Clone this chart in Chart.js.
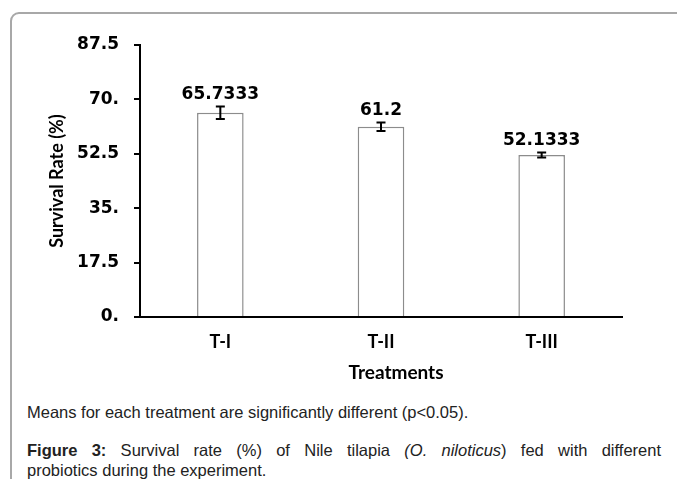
<!DOCTYPE html>
<html>
<head>
<meta charset="utf-8">
<script src="https://cdn.jsdelivr.net/npm/chart.js@4.4.0/dist/chart.umd.min.js"></script>
<style>
    body { margin: 0; background: #fff; }
    #page { position: relative; width: 677px; height: 479px; overflow: hidden; }
    #marco {
        position: absolute; left: 10px; top: 12px; width: 720px; height: 520px;
        border: 2px solid #a8a8a8; border-radius: 9px;
    }
    #grafico { position: absolute; left: 0; top: 0; }
    .nota {
        position: absolute; left: 27px; width: 634px;
        font-family: "Liberation Sans", Arial, sans-serif; font-size: 16.5px;
        line-height: 20px; color: #222;
    }
    #nota1 { top: 402px; }
    #nota2 { top: 440px; }
    .justa { text-align: justify; text-align-last: justify; }
</style>
</head>
<body>
<div id="page">
    <div id="marco"></div>
    <canvas id="grafico" width="677" height="390"></canvas>
    <div class="nota" id="nota1">Means for each treatment are significantly different (p&lt;0.05).</div>
    <div class="nota" id="nota2">
        <div class="justa"><b>Figure 3:</b> Survival rate (%) of Nile tilapia <i>(O. niloticus</i>) fed with different</div>
        <div>probiotics during the experiment.</div>
    </div>
</div>
<script>
const tratamientos = ['T-I', 'T-II', 'T-III'];
const supervivencia = [65.7333, 61.2, 52.1333];
const errores = [2.0, 1.4, 0.8];
const yTickValues = [0, 17.5, 35, 52.5, 70, 87.5];
const yTickLabels = ['0.', '17.5', '35.', '52.5', '70.', '87.5'];
const tituloX = 'Treatments';

// barras de error, etiquetas de valor y titulo del eje x
const errorBarsPlugin = {
    id: 'errorBars',
    afterDatasetsDraw(chart) {
        const ctx = chart.ctx;
        const y = chart.scales.y;
        const meta = chart.getDatasetMeta(0);
        ctx.save();
        meta.data.forEach((bar, i) => {
            const v = supervivencia[i];
            const top = y.getPixelForValue(v + errores[i]);
            const bottom = y.getPixelForValue(v - errores[i]);
            ctx.strokeStyle = '#000';
            ctx.lineWidth = 2;
            ctx.beginPath();
            ctx.moveTo(bar.x, top);
            ctx.lineTo(bar.x, bottom);
            ctx.moveTo(bar.x - 4.5, top);
            ctx.lineTo(bar.x + 4.5, top);
            ctx.moveTo(bar.x - 4.5, bottom);
            ctx.lineTo(bar.x + 4.5, bottom);
            ctx.stroke();

            ctx.fillStyle = '#000';
            ctx.font = 'bold 17px "DejaVu Sans"';
            ctx.textAlign = 'center';
            ctx.textBaseline = 'alphabetic';
            ctx.fillText(String(v), bar.x, top - 7);
        });

        // el titulo del eje x va un poco a la derecha del centro, como en el original
        const area = chart.chartArea;
        ctx.font = 'bold 19px Lato';
        ctx.textBaseline = 'middle';
        ctx.fillText(tituloX, (area.left + area.right) / 2 + 15, area.bottom + 56);
        ctx.restore();
    }
};

const ctx = document.getElementById('grafico').getContext('2d');
new Chart(ctx, {
    type: 'bar',
    data: {
        labels: tratamientos,
        datasets: [{
            data: supervivencia,
            backgroundColor: '#ffffff',
            borderColor: '#8c8c8c',
            borderWidth: 1.5,
            categoryPercentage: 1,
            barPercentage: 0.29
        }]
    },
    options: {
        responsive: false,
        animation: false,
        layout: { padding: { left: 46, top: 45, right: 55, bottom: 6 } },
        plugins: {
            legend: { display: false },
            tooltip: { enabled: false }
        },
        scales: {
            x: {
                grid: { display: false },
                border: { display: true, color: '#000', width: 2 },
                ticks: {
                    color: '#000',
                    padding: 6,
                    font: { family: 'Lato', weight: 'bold', size: 18 }
                },
                afterFit(scale) { scale.height = 67; }
            },
            y: {
                min: 0,
                max: 87.5,
                afterBuildTicks(scale) {
                    scale.ticks = yTickValues.map(v => ({ value: v }));
                },
                grid: {
                    drawOnChartArea: false,
                    drawTicks: true,
                    tickLength: 6,
                    color: '#000',
                    lineWidth: 2
                },
                border: { display: true, color: '#000', width: 2 },
                ticks: {
                    color: '#000',
                    padding: 15,
                    font: { family: 'DejaVu Sans', weight: 'bold', size: 17 },
                    callback: (value, index) => yTickLabels[index]
                },
                title: {
                    display: true,
                    text: 'Survival Rate (%)',
                    color: '#000',
                    padding: 0,
                    font: { family: 'Lato', weight: 'bold', size: 18 }
                },
                afterFit(scale) { scale.width = 94; }
            }
        }
    },
    plugins: [errorBarsPlugin]
});
</script>
</body>
</html>
